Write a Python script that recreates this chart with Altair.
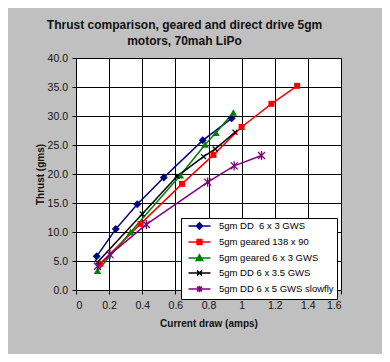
import altair as alt
import pandas as pd

# ---------------- data ----------------
series_names = [
    "5gm DD\u00a0\u00a06 x 3 GWS",
    "5gm geared 138 x 90",
    "5gm geared 6 x 3 GWS",
    "5gm DD 6 x 3.5 GWS",
    "5gm DD 6 x 5 GWS slowfly",
]

dd63_current = [0.125, 0.24, 0.37, 0.53, 0.765, 0.94]
dd63_thrust = [5.8, 10.5, 14.8, 19.4, 25.8, 29.6]

g13890_current = [0.145, 0.39, 0.64, 0.83, 1.0, 1.18, 1.335]
g13890_thrust = [4.5, 11.4, 18.3, 23.3, 28.1, 32.1, 35.2]

g63_current = [0.13, 0.33, 0.63, 0.78, 0.845, 0.95]
g63_thrust = [3.3, 10.0, 19.8, 25.1, 27.1, 30.6]

dd635_current = [0.13, 0.40, 0.61, 0.77, 0.84, 0.96]
dd635_thrust = [4.8, 13.1, 19.6, 23.0, 24.3, 27.2]

dd65_current = [0.13, 0.205, 0.425, 0.795, 0.955, 1.12]
dd65_thrust = [4.1, 6.1, 11.3, 18.6, 21.4, 23.2]

x_ticks = [0, 0.2, 0.4, 0.6, 0.8, 1.0, 1.2, 1.4, 1.6]
y_ticks = [0, 5, 10, 15, 20, 25, 30, 35, 40]

title_lines = ["Thrust comparison, geared and direct drive 5gm", "motors, 70mah LiPo"]

# ---------------- styles ----------------
colors = ["#000080", "#ff0000", "#008000", "#000000", "#800080"]
plot_shapes = ["diamond", "square", "triangle-up",
               "M-1,-1L1,1M-1,1L1,-1",
               "M-1,-1L1,1M-1,1L1,-1M0,-1.3L0,1.3"]
plot_sizes = [64, 36, 56, 25, 49]
plot_filled = [True, True, True, False, False]

L = "M-2.75,0L2.75,0"
legend_paths = [
    L + "M0,-0.8L0.8,0L0,0.8L-0.8,0Z",
    L + "M-0.6,-0.6L0.6,-0.6L0.6,0.6L-0.6,0.6Z",
    L + "M0,-0.8L0.8,0.6L-0.8,0.6Z",
    L + "M-0.6,-0.6L0.6,0.6M-0.6,0.6L0.6,-0.6",
    L + "M-0.6,-0.6L0.6,0.6M-0.6,0.6L0.6,-0.6M0,-0.8L0,0.8",
]

FONT = "Liberation Sans"

rows = []
for name, xs, ys in zip(series_names,
                        [dd63_current, g13890_current, g63_current, dd635_current, dd65_current],
                        [dd63_thrust, g13890_thrust, g63_thrust, dd635_thrust, dd65_thrust]):
    for i, (a, b) in enumerate(zip(xs, ys)):
        rows.append({"series": name, "current": a, "thrust": b, "idx": i})
df = pd.DataFrame(rows)

color_scale = alt.Scale(domain=series_names, range=colors)

leg_props = dict(
    orient="none", legendX=105, legendY=160, title=None,
    padding=3, strokeColor="black", fillColor="white",
    labelFont=FONT, labelFontSize=9.5, labelColor="black",
    symbolSize=64, symbolStrokeWidth=1.5, symbolOffset=10.5, labelOffset=14.5,
    rowPadding=3,
)

x_enc = alt.X("current:Q", scale=alt.Scale(domain=[0, 1.6], nice=False, zero=False),
              axis=alt.Axis(values=x_ticks, format="~g", title="Current draw (amps)",
                            labelPadding=6, titlePadding=8))
y_enc = alt.Y("thrust:Q", scale=alt.Scale(domain=[0, 40], nice=False),
              axis=alt.Axis(values=y_ticks, format=".1f", title="Thrust (gms)",
                            labelPadding=4.5, titlePadding=2))
c_enc = alt.Color("series:N", scale=color_scale, legend=alt.Legend(**leg_props))

base = alt.Chart(df)

lines = base.mark_line(strokeWidth=1.5).encode(
    x=x_enc, y=y_enc, color=c_enc, order=alt.Order("idx:Q"),
)

layers = [lines]
for name, shp, sz, fl in zip(series_names, plot_shapes, plot_sizes, plot_filled):
    layers.append(
        base.transform_filter(alt.datum.series == name)
        .mark_point(shape=shp, size=sz, filled=fl, strokeWidth=1.3, opacity=1)
        .encode(x=x_enc, y=y_enc, color=c_enc)
    )

legend_layer = base.transform_filter("false").mark_point(filled=False, strokeWidth=1.5).encode(
    x=x_enc, y=y_enc, color=c_enc,
    shape=alt.Shape("series:N", scale=alt.Scale(domain=series_names, range=legend_paths),
                    legend=alt.Legend(**leg_props)),
)
layers.append(legend_layer)

chart = alt.layer(*layers).properties(
    width=265, height=232,
    autosize=alt.AutoSizeParams(type="none"),
    padding={"left": 68, "top": 50, "right": 41, "bottom": 64},
    background="#c0c0c0",
    title=alt.TitleParams(text=title_lines, font=FONT, fontSize=12, fontWeight="bold",
                          color="#111111", anchor="middle", dx=-24, offset=5, lineHeight=16),
).configure_view(
    fill="white", stroke="black", strokeWidth=1,
).configure_axis(
    domainColor="black", tickColor="black", gridColor="black", gridWidth=1, gridOpacity=1,
    tickSize=4, labelFont=FONT, labelFontSize=10.5, labelColor="#111111",
    titleFont=FONT, titleFontSize=10, titleFontWeight="bold", titleColor="#111111",
)

chart.save("out.html", embed_options={"renderer": "svg", "actions": False})
